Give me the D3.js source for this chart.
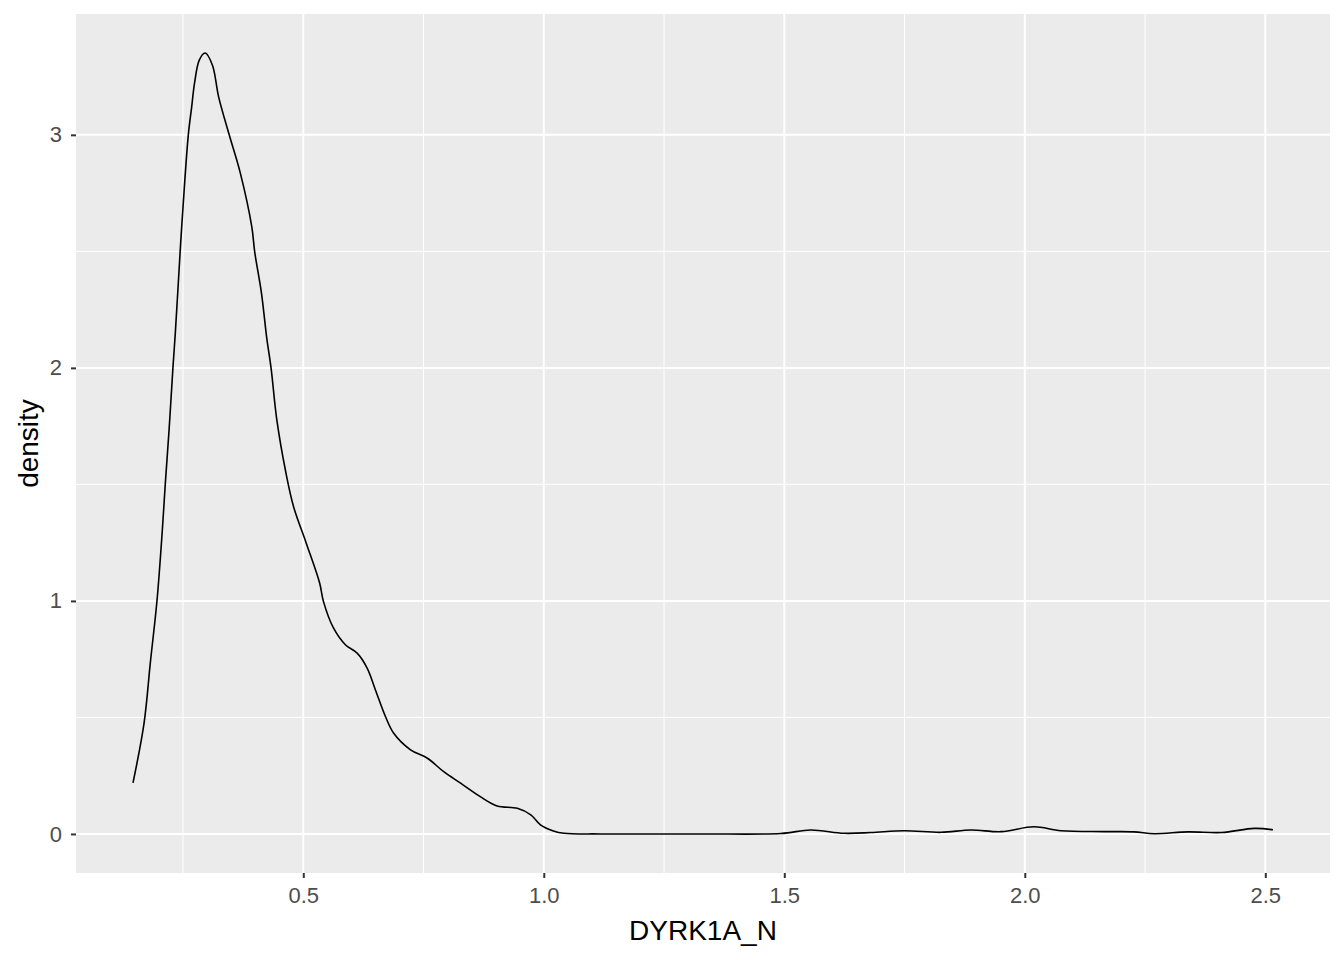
<!DOCTYPE html>
<html>
<head>
<meta charset="utf-8">
<script src="https://cdn.jsdelivr.net/npm/d3@7"></script>
<style>
  body { margin: 0; background: #fff; }
  svg { display: block; font-family: "Liberation Sans", Arial, sans-serif; }
</style>
</head>
<body>
<div id="chart"></div>
<script>
// density estimate of DYRK1A_N
var xs = [0.146, 0.169, 0.182, 0.196, 0.207, 0.213, 0.221, 0.229, 0.234, 0.244, 0.250, 0.261, 0.268, 0.274, 0.284, 0.296,
  0.311, 0.324, 0.346, 0.369, 0.393, 0.399, 0.413, 0.424, 0.433, 0.445, 0.464, 0.480, 0.506, 0.534, 0.542, 0.563,
  0.588, 0.612, 0.633, 0.650, 0.671, 0.688, 0.723, 0.758, 0.792, 0.827, 0.868, 0.903, 0.945, 0.973, 0.993, 1.020,
  1.042, 1.118, 1.327, 1.493, 1.555, 1.624, 1.680, 1.749, 1.826, 1.888, 1.951, 2.019, 2.075, 2.165, 2.227, 2.269,
  2.340, 2.409, 2.477, 2.516];
var dens = [0.219, 0.476, 0.734, 1.004, 1.305, 1.498, 1.734, 2.000, 2.150, 2.498, 2.691, 3.000, 3.120, 3.223, 3.322, 3.351,
  3.300, 3.163, 3.000, 2.837, 2.605, 2.498, 2.322, 2.129, 2.000, 1.777, 1.549, 1.403, 1.249, 1.077, 0.997, 0.883,
  0.811, 0.776, 0.711, 0.618, 0.503, 0.432, 0.361, 0.325, 0.267, 0.218, 0.160, 0.120, 0.110, 0.082, 0.039, 0.013,
  0.003, 0.000, 0.000, 0.002, 0.017, 0.003, 0.006, 0.014, 0.007, 0.017, 0.010, 0.031, 0.014, 0.010, 0.009, 0.001,
  0.009, 0.006, 0.024, 0.018];
var xTicks = [0.5, 1.0, 1.5, 2.0, 2.5];
var xMinor = [0.25, 0.75, 1.25, 1.75, 2.25];
var yTicks = [0, 1, 2, 3];
var yMinor = [0.5, 1.5, 2.5];
var xLabel = "DYRK1A_N";
var yLabel = "density";

var width = 1344, height = 960;
// panel box (window.top is reserved, so no "top" here)
var panelL = 76, panelR = 1330, panelT = 14, panelB = 873;

var data = xs.map(function (x, i) { return [x, dens[i]]; });

var xMin = d3.min(xs), xMax = d3.max(xs);
var xPad = (xMax - xMin) * 0.05;
var yMax = d3.max(dens);
var yPad = yMax * 0.05;

var x = d3.scaleLinear().domain([xMin - xPad, xMax + xPad]).range([panelL, panelR]);
var y = d3.scaleLinear().domain([-yPad, yMax + yPad]).range([panelB, panelT]);

var svg = d3.select("#chart").append("svg")
  .attr("width", width)
  .attr("height", height);

svg.append("rect")
  .attr("x", panelL).attr("y", panelT)
  .attr("width", panelR - panelL).attr("height", panelB - panelT)
  .attr("fill", "#EBEBEB");

// grid
svg.selectAll("line.xminor").data(xMinor).enter().append("line")
  .attr("x1", function (d) { return x(d); }).attr("x2", function (d) { return x(d); })
  .attr("y1", panelT).attr("y2", panelB)
  .attr("stroke", "#fff").attr("stroke-width", 1);
svg.selectAll("line.yminor").data(yMinor).enter().append("line")
  .attr("y1", function (d) { return y(d); }).attr("y2", function (d) { return y(d); })
  .attr("x1", panelL).attr("x2", panelR)
  .attr("stroke", "#fff").attr("stroke-width", 1);
svg.selectAll("line.xmajor").data(xTicks).enter().append("line")
  .attr("x1", function (d) { return x(d); }).attr("x2", function (d) { return x(d); })
  .attr("y1", panelT).attr("y2", panelB)
  .attr("stroke", "#fff").attr("stroke-width", 2);
svg.selectAll("line.ymajor").data(yTicks).enter().append("line")
  .attr("y1", function (d) { return y(d); }).attr("y2", function (d) { return y(d); })
  .attr("x1", panelL).attr("x2", panelR)
  .attr("stroke", "#fff").attr("stroke-width", 2);

// density line
var line = d3.line()
  .x(function (d) { return x(d[0]); })
  .y(function (d) { return y(d[1]); })
  .curve(d3.curveCatmullRom);

svg.append("path")
  .datum(data)
  .attr("d", line)
  .attr("fill", "none")
  .attr("stroke", "#000")
  .attr("stroke-width", 1.6);

// axes
var xAxis = d3.axisBottom(x).tickValues(xTicks).tickFormat(d3.format(".1f")).tickSize(5).tickPadding(9);
var yAxis = d3.axisLeft(y).tickValues(yTicks).tickFormat(d3.format("d")).tickSize(5).tickPadding(9);

var gx = svg.append("g").attr("transform", "translate(0," + panelB + ")").call(xAxis);
var gy = svg.append("g").attr("transform", "translate(" + panelL + ",0)").call(yAxis);

[gx, gy].forEach(function (g) {
  g.select(".domain").remove();
  g.selectAll(".tick line").attr("stroke", "#333").attr("stroke-width", 2);
  g.selectAll(".tick text").attr("fill", "#4D4D4D").style("font-size", "22px")
    .style("font-family", "Liberation Sans, Arial, sans-serif");
});

svg.append("text")
  .attr("x", (panelL + panelR) / 2)
  .attr("y", 940)
  .attr("text-anchor", "middle")
  .style("font-size", "28px")
  .attr("fill", "#000")
  .text(xLabel);

svg.append("text")
  .attr("transform", "translate(38," + (panelT + panelB) / 2 + ") rotate(-90)")
  .attr("text-anchor", "middle")
  .style("font-size", "28px")
  .attr("fill", "#000")
  .text(yLabel);
</script>
</body>
</html>
